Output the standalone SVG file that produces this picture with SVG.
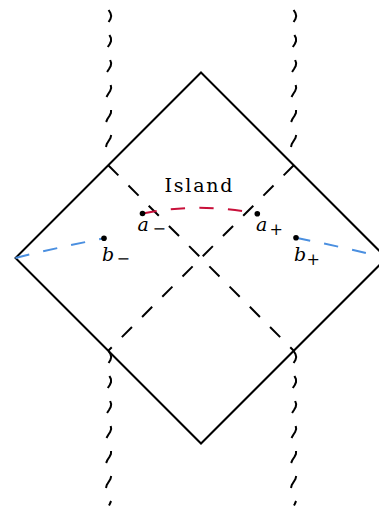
<svg xmlns="http://www.w3.org/2000/svg" xmlns:xlink="http://www.w3.org/1999/xlink" width="379" height="507" viewBox="0 0 379 507">
<style>
.edge{fill:none;stroke:#000;stroke-width:2;stroke-linejoin:miter}
.dash{fill:none;stroke:#000;stroke-width:2;stroke-dasharray:14.3 14.3}
.red{fill:none;stroke:#c8103a;stroke-width:2;stroke-dasharray:14.3 14.3}
.blue{fill:none;stroke:#4a8fe0;stroke-width:2;stroke-dasharray:14.3 14.3}
.wave{fill:none;stroke:#000;stroke-width:2;stroke-linecap:butt;stroke-linejoin:round}
.dot{fill:#000}
.lbl{font-family:"DejaVu Serif","Liberation Serif",serif;font-style:italic;font-size:19px;fill:#000}
.sub{font-family:"DejaVu Serif","Liberation Serif",serif;font-size:16px;fill:#000}
.title{font-family:"DejaVu Serif","Liberation Serif",serif;font-size:19px;fill:#000}
</style>
<defs>
<g id="wavy">
<path class="wave" d="M108.6,10 L110.44,13 L111.2,16 L110.44,19 L108.6,22 M109.4,35 L110.92,38 L111.07,41 L109.78,44 L107.8,47 M110.13,60 L111.17,63 L110.7,66 L109.01,69 L107.07,72 M110.7,85 L111.17,88 L110.13,91 L108.19,94 L106.5,97 M111.07,110 L110.92,113 L109.4,116 L107.42,119 L106.13,122 M111.2,135 L110.44,138 L108.6,141 L106.76,144 L106,147"/>
<path class="wave" d="M108.6,351 L110.44,354 L111.2,357 L110.44,360 L108.6,363 M109.4,376 L110.92,379 L111.07,382 L109.78,385 L107.8,388 M110.13,401 L111.17,404 L110.7,407 L109.01,410 L107.07,413 M110.7,426 L111.17,429 L110.13,432 L108.19,435 L106.5,438 M111.07,451 L110.92,454 L109.4,457 L107.42,460 L106.13,463 M111.2,476 L110.44,479 L108.6,482 L106.76,485 L106,488 M111.07,501 L109.78,504 L109,505.5"/>
</g>
</defs>
<g id="horizons">
<use xlink:href="#wavy" href="#wavy"/>
<use xlink:href="#wavy" href="#wavy" transform="translate(185,0)"/>
</g>
<g id="diamond">
<polygon class="edge" points="201,72.5 386.5,258 201,443.5 15.5,258"/>
</g>
<g id="connectors">
<line class="dash" x1="108.25" y1="165.25" x2="293.75" y2="350.75"/>
<line class="dash" x1="293.75" y1="165.25" x2="108.25" y2="350.75"/>
<path class="red" d="M142.5,213.5 Q200,202 257.3,213.8"/>
<path class="blue" d="M15.5,258 Q55,248 104,238.3"/>
<path class="blue" d="M296,237.8 Q347,248 386.5,258"/>
</g>
<g id="island">
<text class="title" x="164.5" y="192" textLength="68" lengthAdjust="spacing">Island</text>
</g>
<g id="a-minus">
<circle class="dot" cx="142.5" cy="213.5" r="2.8"/>
<text class="lbl" x="137.5" y="230.5">a</text>
<text class="sub" x="152.5" y="234">−</text>
</g>
<g id="a-plus">
<circle class="dot" cx="257.3" cy="213.8" r="2.8"/>
<text class="lbl" x="256" y="231">a</text>
<text class="sub" x="269.5" y="234.5">+</text>
</g>
<g id="b-minus">
<circle class="dot" cx="104" cy="238.3" r="2.8"/>
<text class="lbl" x="102" y="261">b</text>
<text class="sub" x="116.5" y="264">−</text>
</g>
<g id="b-plus">
<circle class="dot" cx="296" cy="237.8" r="2.8"/>
<text class="lbl" x="294" y="261">b</text>
<text class="sub" x="306.5" y="264.5">+</text>
</g>
</svg>
